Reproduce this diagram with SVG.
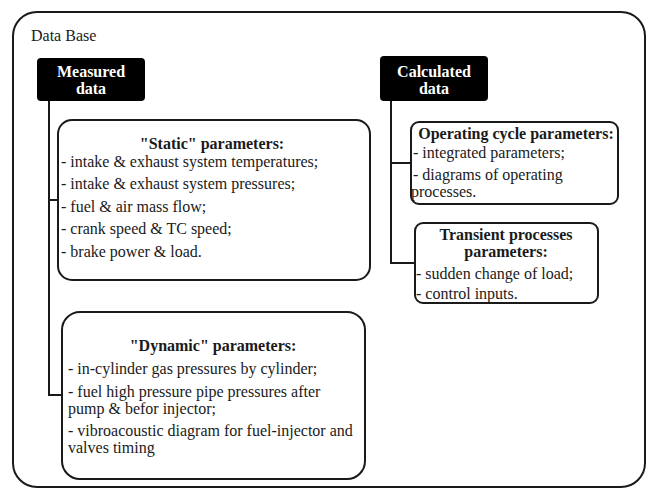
<svg xmlns="http://www.w3.org/2000/svg" width="648" height="490" viewBox="0 0 648 490">
<style>
text{font-family:"Liberation Serif","Times New Roman",serif;fill:#1a1a1a;font-size:16px}
.t{font-weight:bold;text-anchor:middle}
.w{fill:#fff;font-weight:bold;text-anchor:middle}
.box{fill:#fff;stroke:#1a1a1a;stroke-width:2}
.hd{fill:#000;stroke:none}
.c{fill:none;stroke:#1a1a1a;stroke-width:2}
</style>
<rect width="648" height="490" fill="#fff"/>
<g id="database">
<rect x="13" y="12" width="632" height="475" rx="24" fill="#fff" stroke="#1a1a1a" stroke-width="2"/>
<text x="31" y="41">Data Base</text>
</g>
<g id="connectors">
<polyline class="c" points="49,101 49,395 62,395"/>
<line class="c" x1="49" y1="200" x2="58" y2="200"/>
<polyline class="c" points="391,101 391,263 415,263"/>
<line class="c" x1="391" y1="163" x2="411" y2="163"/>
</g>
<g id="measured">
<rect class="hd" x="37" y="58" width="108" height="43" rx="4"/>
<text class="w" x="91" y="77">Measured</text>
<text class="w" x="91" y="94">data</text>
</g>
<g id="calculated">
<rect class="hd" x="380" y="56" width="108" height="45" rx="4"/>
<text class="w" x="434" y="77">Calculated</text>
<text class="w" x="434" y="94">data</text>
</g>
<g id="static">
<rect class="box" x="58" y="120" width="312" height="160" rx="14"/>
<text class="t" x="212" y="149">"Static" parameters:</text>
<text x="61" y="167">- intake &amp; exhaust system temperatures;</text>
<text x="61" y="189">- intake &amp; exhaust system pressures;</text>
<text x="61" y="212">- fuel &amp; air mass flow;</text>
<text x="61" y="234">- crank speed &amp; TC speed;</text>
<text x="61" y="257">- brake power &amp; load.</text>
</g>
<g id="dynamic">
<rect class="box" x="62" y="312" width="303" height="167" rx="18"/>
<text class="t" x="213" y="351">"Dynamic" parameters:</text>
<text x="68" y="374">- in-cylinder gas pressures by cylinder;</text>
<text x="68" y="397">- fuel high pressure pipe pressures after</text>
<text x="68" y="414">pump &amp; befor injector;</text>
<text x="68" y="436">- vibroacoustic diagram for fuel-injector and</text>
<text x="68" y="453">valves timing</text>
</g>
<g id="operating">
<rect class="box" x="411" y="122" width="207" height="82" rx="8"/>
<text class="t" x="516" y="139">Operating cycle parameters:</text>
<text x="413" y="158">- integrated parameters;</text>
<text x="413" y="180">- diagrams of operating</text>
<text x="411" y="197">processes.</text>
</g>
<g id="transient">
<rect class="box" x="415" y="223" width="183" height="80" rx="8"/>
<text class="t" x="506" y="240">Transient processes</text>
<text class="t" x="506" y="257">parameters:</text>
<text x="416" y="279">- sudden change of load;</text>
<text x="416" y="299">- control inputs.</text>
</g>
</svg>
